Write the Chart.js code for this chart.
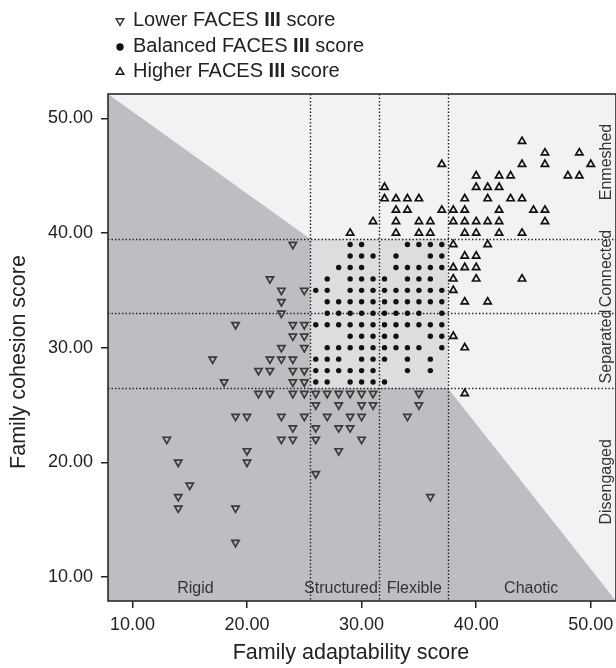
<!DOCTYPE html>
<html><head><meta charset="utf-8">
<script src="https://cdn.jsdelivr.net/npm/chart.js@4.4.0/dist/chart.umd.min.js"></script>
<style>html,body{margin:0;padding:0;background:#fff;}canvas{display:block}</style>
</head><body>
<canvas id="c" width="616" height="668"></canvas>
<script>
// ---- data ----
const lowerX = [24,22,23,25,23,23,19,24,25,24,25,23,25,17,22,23,24,21,22,24,25,18,24,25,
  21,22,24,25,26,27,28,29,30,31,35, 26,28,30,31,35, 19,20,23,25,27,29,30,34, 24,26,28,29,
  13,23,24,26,30, 20,28, 14,20, 26, 15, 14,36, 14,19, 19];
const lowerY = [39,36,35,35,34,33,32,32,32,31,31,30,30,29,29,29,29,28,28,28,28,27,27,27,
  26,26,26,26,26,26,26,26,26,26,26, 25,25,25,25,25, 24,24,24,24,24,24,24,24, 23,23,23,23,
  22,22,22,22,22, 21,21, 20,20, 19, 18, 17,17, 16,16, 13];

const balancedX = [29,30,34,35,36,37, 29,30,31,33,36,37, 28,29,30,33,34,35,36,37,
  27,29,30,31,32,34,35,36, 26,27,29,30,31,32,33,34,35,36,37, 27,28,29,30,31,32,33,34,35,36,37,
  27,28,29,30,31,32,33,34,35,37, 26,27,28,29,30,31,32,33,34,35,36,37, 29,30,31,32,33,36,37,
  27,28,29,30,31,32,33,34,35,37, 26,27,28,30,31,32,34,36, 26,27,28,29,30,31,34,36, 26,27,29,30,31,32];
const balancedY = [39,39,39,39,39,39, 38,38,38,38,38,38, 37,37,37,37,37,37,37,37,
  36,36,36,36,36,36,36,36, 35,35,35,35,35,35,35,35,35,35,35, 34,34,34,34,34,34,34,34,34,34,34,
  33,33,33,33,33,33,33,33,33,33, 32,32,32,32,32,32,32,32,32,32,32,32, 31,31,31,31,31,31,31,
  30,30,30,30,30,30,30,30,30,30, 29,29,29,29,29,29,29,29, 28,28,28,28,28,28,28,28, 27,27,27,27,27,27];

const higherX = [44, 46,49, 37,44,46,50, 40,42,43,48,49, 32,40,41,42, 32,33,34,35,39,41,43,44,
  33,34,37,38,39,42,45,46, 31,33,35,36,38,39,40,41,42,46, 29,33,35,36,39,40,42,44,
  38,41, 39,40, 38,39,40, 38,40,44, 38, 39,41, 38, 39, 39];
const higherY = [48, 47,47, 46,46,46,46, 45,45,45,45,45, 44,44,44,44, 43,43,43,43,43,43,43,43,
  42,42,42,42,42,42,42,42, 41,41,41,41,41,41,41,41,41,41, 40,40,40,40,40,40,40,40,
  39,39, 38,38, 37,37,37, 36,36,36, 35, 34,34, 31, 30, 26];

const seriesNames = ['Lower FACES III score', 'Balanced FACES III score', 'Higher FACES III score'];
const xTicks = [10, 20, 30, 40, 50];
const yTicks = [10, 20, 30, 40, 50];
const adaptCuts = [25.5, 31.5, 37.5];
const cohesionCuts = [26.5, 33, 39.5];
const adaptLabels = ['Rigid', 'Structured', 'Flexible', 'Chaotic'];
const adaptLabelAt = [15.5, 28.2, 34.6, 44.8];
const cohesionLabels = ['Disengaged', 'Separated', 'Connected', 'Enmeshed'];
const cohesionLabelAt = [18.3, 30.1, 36.9, 46.2];
const xTitle = 'Family adaptability score';
const yTitle = 'Family cohesion score';

// ---- rendering ----
const FONT = "'Liberation Sans', Arial, sans-serif";
const pts = (xs, ys) => xs.map((v, i) => ({x: v, y: ys[i]}));

const zones = {
  id: 'zones',
  beforeDraw(chart) {
    const {ctx, chartArea: a, scales: {x, y}} = chart;
    const px = v => x.getPixelForValue(v), py = v => y.getPixelForValue(v);
    ctx.save();
    ctx.fillStyle = '#f1f2f4';
    ctx.fillRect(a.left, a.top, a.width, a.height);
    ctx.fillStyle = '#bdbec2';
    ctx.beginPath();
    ctx.moveTo(a.left, a.top);
    ctx.lineTo(px(adaptCuts[0]), py(cohesionCuts[2]));
    ctx.lineTo(px(adaptCuts[0]), py(cohesionCuts[0]));
    ctx.lineTo(px(adaptCuts[2]), py(cohesionCuts[0]));
    ctx.lineTo(a.right, a.bottom);
    ctx.lineTo(a.left, a.bottom);
    ctx.closePath();
    ctx.fill();
    ctx.fillStyle = '#dcdddf';
    ctx.fillRect(px(adaptCuts[0]), py(cohesionCuts[2]), px(adaptCuts[2]) - px(adaptCuts[0]), py(cohesionCuts[0]) - py(cohesionCuts[2]));
    ctx.strokeStyle = '#222';
    ctx.lineWidth = 1.4;
    ctx.setLineDash([1.4, 2.1]);
    adaptCuts.forEach(v => {
      ctx.beginPath(); ctx.moveTo(Math.round(px(v)) + 0.5, a.top); ctx.lineTo(Math.round(px(v)) + 0.5, a.bottom); ctx.stroke();
    });
    cohesionCuts.forEach(v => {
      ctx.beginPath(); ctx.moveTo(a.left, Math.round(py(v)) + 0.5); ctx.lineTo(a.right, Math.round(py(v)) + 0.5); ctx.stroke();
    });
    ctx.setLineDash([]);
    // zone labels
    ctx.fillStyle = '#333';
    ctx.font = `16px ${FONT}`;
    ctx.textAlign = 'center';
    ctx.textBaseline = 'middle';
    adaptLabels.forEach((t, i) => ctx.fillText(t, px(adaptLabelAt[i]), a.bottom - 12));
    cohesionLabels.forEach((t, i) => {
      ctx.save();
      ctx.translate(607, py(cohesionLabelAt[i]));
      ctx.rotate(-Math.PI / 2);
      ctx.fillText(t, 0, 0);
      ctx.restore();
    });
    ctx.restore();
  },
  afterDraw(chart) {
    const {ctx, chartArea: a} = chart;
    ctx.save();
    ctx.strokeStyle = '#2a2a2a';
    ctx.lineWidth = 1.6;
    ctx.strokeRect(a.left, a.top, a.width, a.height);
    // axis titles
    ctx.fillStyle = '#222';
    ctx.font = `21.5px ${FONT}`;
    ctx.textAlign = 'center';
    ctx.textBaseline = 'middle';
    ctx.fillText(xTitle, 351, 653);
    ctx.save();
    ctx.translate(19, 362);
    ctx.rotate(-Math.PI / 2);
    ctx.fillText(yTitle, 0, 0);
    ctx.restore();
    // legend
    const styles = [
      {pointStyle: 'triangle', rotation: 180, radius: 4.3, borderWidth: 1.5, stroke: '#333', fill: 'rgba(0,0,0,0)'},
      {pointStyle: 'circle', rotation: 0, radius: 3.7, borderWidth: 0, stroke: '#111', fill: '#111'},
      {pointStyle: 'triangle', rotation: 0, radius: 4.3, borderWidth: 1.5, stroke: '#111', fill: 'rgba(0,0,0,0)'}
    ];
    const rows = [20, 46, 71];
    seriesNames.forEach((name, i) => {
      const s = styles[i];
      ctx.strokeStyle = s.stroke; ctx.fillStyle = s.fill; ctx.lineWidth = s.borderWidth;
      Chart.helpers.drawPoint(ctx, s, 120, rows[i] + 1);
      ctx.fillStyle = '#222';
      ctx.textAlign = 'left';
      let xx = 133;
      const parts = name.split('III');
      parts.forEach((p, k) => {
        ctx.font = `20px ${FONT}`;
        ctx.fillText(p, xx, rows[i]);
        xx += ctx.measureText(p).width;
        if (k < parts.length - 1) {
          ctx.font = `bold 20px ${FONT}`;
          ctx.fillText('III', xx, rows[i]);
          xx += ctx.measureText('III').width;
        }
      });
    });
    ctx.restore();
  }
};

const axisCommon = (ticks, pad) => ({
  type: 'linear',
  afterBuildTicks: s => { s.ticks = ticks.map(v => ({value: v})); },
  ticks: {callback: v => Number(v).toFixed(2), color: '#222', padding: pad, font: {family: FONT, size: 18}},
  grid: {display: true, drawOnChartArea: false, drawTicks: true, tickLength: 7, color: '#222', lineWidth: 1.5},
  border: {display: false}
});

new Chart(document.getElementById('c'), {
  type: 'scatter',
  data: {
    datasets: [
      {label: seriesNames[0], data: pts(lowerX, lowerY), pointStyle: 'triangle', rotation: 180, pointRadius: 4.2,
        borderColor: '#3a3a3a', backgroundColor: 'rgba(0,0,0,0)', borderWidth: 1.7},
      {label: seriesNames[1], data: pts(balancedX, balancedY), pointStyle: 'circle', pointRadius: 2.7,
        borderColor: '#111', backgroundColor: '#111', borderWidth: 0},
      {label: seriesNames[2], data: pts(higherX, higherY), pointStyle: 'triangle', rotation: 0, pointRadius: 4.2,
        borderColor: '#111', backgroundColor: 'rgba(0,0,0,0)', borderWidth: 1.7}
    ]
  },
  options: {
    responsive: false,
    animation: false,
    devicePixelRatio: 1,
    events: [],
    layout: {autoPadding: false, padding: {top: 94, left: 0, right: 0, bottom: 0}},
    plugins: {legend: {display: false}, tooltip: {enabled: false}},
    scales: {
      x: Object.assign(axisCommon(xTicks, 6), {
        min: 7.87, max: 52.2,
        afterFit: s => { s.height = 67; s.paddingLeft = 0; s.paddingRight = 0; }
      }),
      y: Object.assign(axisCommon(yTicks, 8), {
        min: 7.9, max: 52.13,
        afterFit: s => { s.width = 108; s.paddingTop = 0; s.paddingBottom = 0; }
      })
    }
  },
  plugins: [zones]
});
</script>
</body></html>
